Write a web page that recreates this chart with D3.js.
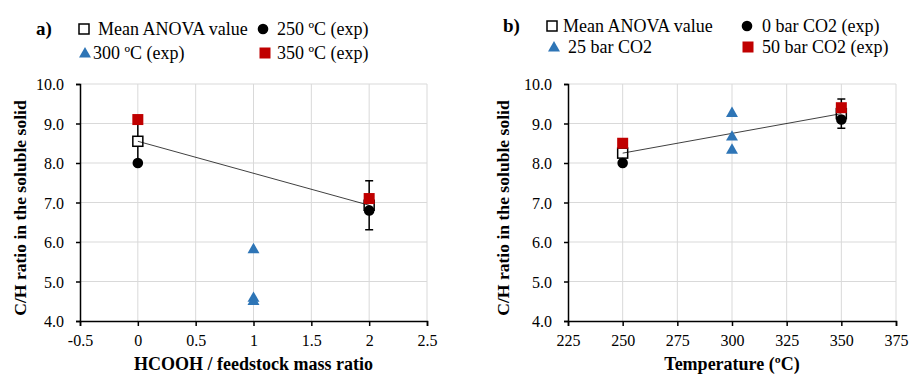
<!DOCTYPE html>
<html>
<head>
<meta charset="utf-8">
<script src="https://cdn.jsdelivr.net/npm/d3@7"></script>
<style>
  body { margin: 0; background: #fff; }
  svg text { font-family: "Liberation Serif", "Times New Roman", Times, serif !important; }
</style>
</head>
<body>
<svg id="chart" width="909" height="382"></svg>
<script>
// panel a: HCOOH / feedstock mass ratio
var aMeanX = [0, 2];
var aMeanY = [8.55, 6.93];
var aMeanErr = [0.6, 0.62];
var a250 = [[0, 8.0], [2, 6.8]];
var a300 = [[1, 5.83], [1, 4.6], [1, 4.52]];
var a350 = [[0, 9.1], [2, 7.1]];
var aXTicks = [-0.5, 0, 0.5, 1, 1.5, 2, 2.5];
var aLegend = ["Mean ANOVA value", "250 ºC (exp)", "300 ºC (exp)", "350 ºC (exp)"];

// panel b: temperature
var bMeanX = [250, 350];
var bMeanY = [8.25, 9.25];
var bMeanErr = [0.3, 0.37];
var b0 = [[250, 8.0], [350, 9.1]];
var b25 = [[300, 9.28], [300, 8.68], [300, 8.35]];
var b50 = [[250, 8.5], [350, 9.4]];
var bXTicks = [225, 250, 275, 300, 325, 350, 375];
var bLegend = ["Mean ANOVA value", "0 bar CO2 (exp)", "25 bar CO2", "50 bar CO2 (exp)"];

var yTicks = [4, 5, 6, 7, 8, 9, 10];

var svg = d3.select("#chart");
var blue = "#2e75b6", red = "#c00000";

function marker(g, type, x, y) {
    if (type == "mean") {
        g.append("rect").attr("x", x - 5).attr("y", y - 5).attr("width", 10).attr("height", 10)
            .attr("fill", "#fff").attr("stroke", "#000").attr("stroke-width", 1.5);
    } else if (type == "circle") {
        g.append("circle").attr("cx", x).attr("cy", y).attr("r", 5.3).attr("fill", "#000");
    } else if (type == "tri") {
        g.append("path").attr("d", d3.symbol(d3.symbolTriangle, 62)())
            .attr("transform", "translate(" + x + "," + (y + 1) + ")").attr("fill", blue);
    } else {
        g.append("rect").attr("x", x - 5.5).attr("y", y - 5.5).attr("width", 11).attr("height", 11)
            .attr("fill", red);
    }
}

function panel(p) {
    var g = svg.append("g");
    var x = d3.scaleLinear().domain(p.xDomain).range([p.left, p.right]);
    var y = d3.scaleLinear().domain([4, 10]).range([321, 84]);

    // grid
    g.selectAll(".gx").data(p.xTicks.slice(1)).enter().append("line")
        .attr("x1", function(d){return x(d);}).attr("x2", function(d){return x(d);})
        .attr("y1", y(10)).attr("y2", y(4)).attr("stroke", "#d9d9d9").attr("stroke-width", 1);
    g.selectAll(".gy").data(yTicks.slice(1)).enter().append("line")
        .attr("x1", x(p.xDomain[0])).attr("x2", x(p.xDomain[1]))
        .attr("y1", function(d){return y(d);}).attr("y2", function(d){return y(d);})
        .attr("stroke", "#d9d9d9").attr("stroke-width", 1);

    // axes
    var xAxis = g.append("g").attr("transform", "translate(0," + y(4) + ")")
        .call(d3.axisBottom(x).tickValues(p.xTicks).tickSize(5).tickPadding(9).tickFormat(p.fmt));
    var yAxis = g.append("g").attr("transform", "translate(" + x(p.xDomain[0]) + ",0)")
        .call(d3.axisLeft(y).tickValues(yTicks).tickSize(4).tickPadding(12).tickFormat(d3.format(".1f")));
    [xAxis, yAxis].forEach(function(a) {
        a.attr("font-family", null);
        a.select(".domain").attr("stroke", "#000").attr("stroke-width", 1.5);
        a.selectAll(".tick line").attr("stroke", "#000").attr("stroke-width", 1.5);
        a.selectAll(".tick text").attr("font-size", 16).attr("fill", "#000");
    });
    yAxis.selectAll(".tick text").attr("dy", "0.35em");

    // axis titles
    g.append("text").attr("x", (p.left + p.right) / 2).attr("y", 370).attr("text-anchor", "middle")
        .attr("font-weight", "bold").attr("font-size", 18).text(p.xTitle);
    g.append("text").attr("transform", "translate(" + p.yTitleX + ",208) rotate(-90)")
        .attr("text-anchor", "middle").attr("font-weight", "bold").attr("font-size", 17.6)
        .text("C/H ratio in the soluble solid");

    // error bars
    p.meanX.forEach(function(d, i) {
        var cx = x(d), y1 = y(p.meanY[i] + p.meanErr[i]), y2 = y(p.meanY[i] - p.meanErr[i]);
        g.append("line").attr("x1", cx).attr("x2", cx).attr("y1", y1).attr("y2", y2)
            .attr("stroke", "#000").attr("stroke-width", 1.5);
        [y1, y2].forEach(function(yy) {
            g.append("line").attr("x1", cx - 4).attr("x2", cx + 4).attr("y1", yy).attr("y2", yy)
                .attr("stroke", "#000").attr("stroke-width", 1.5);
        });
    });
    p.meanX.forEach(function(d, i) { marker(g, "mean", x(d), y(p.meanY[i])); });
    g.append("path").datum(d3.zip(p.meanX, p.meanY))
        .attr("d", d3.line().x(function(d){return x(d[0]);}).y(function(d){return y(d[1]);}))
        .attr("fill", "none").attr("stroke", "#000").attr("stroke-width", 0.75);
    p.s1.forEach(function(d) { marker(g, "circle", x(d[0]), y(d[1])); });
    p.s2.forEach(function(d) { marker(g, "tri", x(d[0]), y(d[1])); });
    p.s3.forEach(function(d) { marker(g, "sq", x(d[0]), y(d[1])); });

    // label + legend
    g.append("text").attr("x", p.labelX).attr("y", p.row1).attr("font-weight", "bold")
        .attr("font-size", 19).text(p.label);
    var types = ["mean", "circle", "tri", "sq"];
    types.forEach(function(t, i) {
        var row = Math.floor(i / 2);
        var base = row ? p.row2 : p.row1;
        marker(g, t, p.legMarkX[i], base - 6);
        g.append("text").attr("x", p.legTextX[i]).attr("y", base).attr("font-size", 18).text(p.legend[i]);
    });
}

panel({
    xDomain: [-0.5, 2.5], left: 80, right: 427, xTicks: aXTicks, fmt: function(d){return String(d);},
    xTitle: "HCOOH / feedstock mass ratio", yTitleX: 26,
    meanX: aMeanX, meanY: aMeanY, meanErr: aMeanErr, s1: a250, s2: a300, s3: a350,
    label: "a)", labelX: 36, row1: 35, row2: 59,
    legMarkX: [84, 263, 85, 265], legTextX: [98, 277, 93, 277], legend: aLegend
});
panel({
    xDomain: [225, 375], left: 568, right: 896, xTicks: bXTicks, fmt: d3.format("d"),
    xTitle: "Temperature (ºC)", yTitleX: 509,
    meanX: bMeanX, meanY: bMeanY, meanErr: bMeanErr, s1: b0, s2: b25, s3: b50,
    label: "b)", labelX: 503, row1: 32, row2: 53,
    legMarkX: [552, 747, 554, 748], legTextX: [563, 762, 568, 762], legend: bLegend
});
</script>
</body>
</html>
